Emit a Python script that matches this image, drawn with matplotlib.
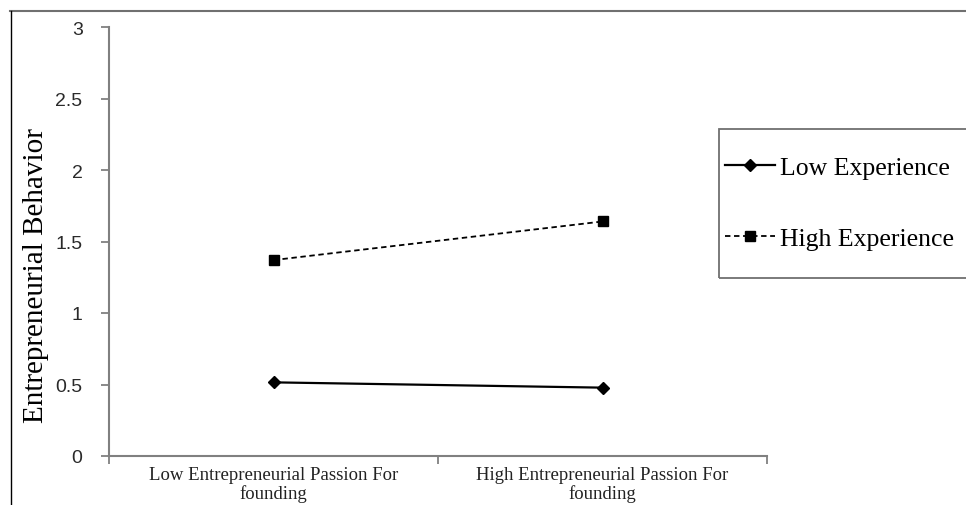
import matplotlib.pyplot as plt
from matplotlib.lines import Line2D
from matplotlib.patches import Rectangle

categories = ["Low Entrepreneurial Passion For\nfounding",
              "High Entrepreneurial Passion For\nfounding"]
low_experience = [0.515, 0.478]
high_experience = [1.37, 1.64]
y_ticks = [0, 0.5, 1, 1.5, 2, 2.5, 3]
y_tick_labels = ["0", "0.5", "1", "1.5", "2", "2.5", "3"]

W, H = 966, 506
fig = plt.figure(figsize=(W / 100, H / 100), dpi=100)
ax = fig.add_axes([109 / W, 1 - 457 / H, (767 - 109) / W, (457 - 28) / H])

x = [0.5, 1.5]
ax.plot(x, low_experience, color="black", lw=1.6, marker="D", ms=6,
        label="Low Experience")
ax.plot(x, high_experience, color="black", lw=1.3, ls=(0, (3, 2)), marker="s",
        ms=6.5, label="High Experience")

ax.set_xlim(0, 2)
ax.set_ylim(0, 3)
ax.set_yticks(y_ticks)
ax.set_yticklabels(y_tick_labels, fontfamily="Liberation Sans", fontsize=14,
                   color="#2a2a2a")
ax.set_xticks([0, 1, 2])
ax.set_xticklabels([])
ax.set_xticks(x, minor=True)
ax.set_xticklabels(categories, minor=True, fontfamily="Liberation Serif",
                   fontsize=13.5, color="#222222", linespacing=1.1)
ax.tick_params(axis="x", which="minor", length=0, pad=7)
ax.tick_params(axis="x", which="major", direction="out", length=6,
               color="#808080", width=1.3)
ax.tick_params(axis="y", direction="out", length=6, color="#808080",
               width=1.3, pad=13)

for s in ["top", "right"]:
    ax.spines[s].set_visible(False)
for s in ["left", "bottom"]:
    ax.spines[s].set_color("#808080")
    ax.spines[s].set_linewidth(1.5)

fig.text(36 / W, 1 - 276 / H, "Entrepreneurial Behavior", rotation=90,
         ha="center", va="center", fontfamily="Liberation Serif", fontsize=21)

# legend box
fig.patches.append(Rectangle((719 / W, 1 - 279 / H), 260 / W, 149 / H,
                             transform=fig.transFigure, fill=False,
                             edgecolor="#707070", lw=1.3))
handles = [Line2D([], [], color="black", lw=1.6, marker="D", ms=6),
           Line2D([], [], color="black", lw=1.3, ls=(0, (3, 2)), marker="s",
                  ms=6.5)]
fig.legend(handles, ["Low Experience", "High Experience"],
           loc="center left", bbox_to_anchor=(725 / W, 1 - 204 / H),
           frameon=False, prop={"family": "Liberation Serif", "size": 18.5},
           handlelength=1.95, handletextpad=0.2, labelspacing=1.85,
           borderpad=0, borderaxespad=0)

# outer frame of the figure panel
fig.add_artist(Line2D([10 / W, 1], [1 - 12 / H] * 2, transform=fig.transFigure,
                      color="#707070", lw=1.5))
fig.add_artist(Line2D([11 / W] * 2, [0, 1 - 12 / H], transform=fig.transFigure,
                      color="black", lw=1.0))

fig.savefig("out.png", dpi=100)
